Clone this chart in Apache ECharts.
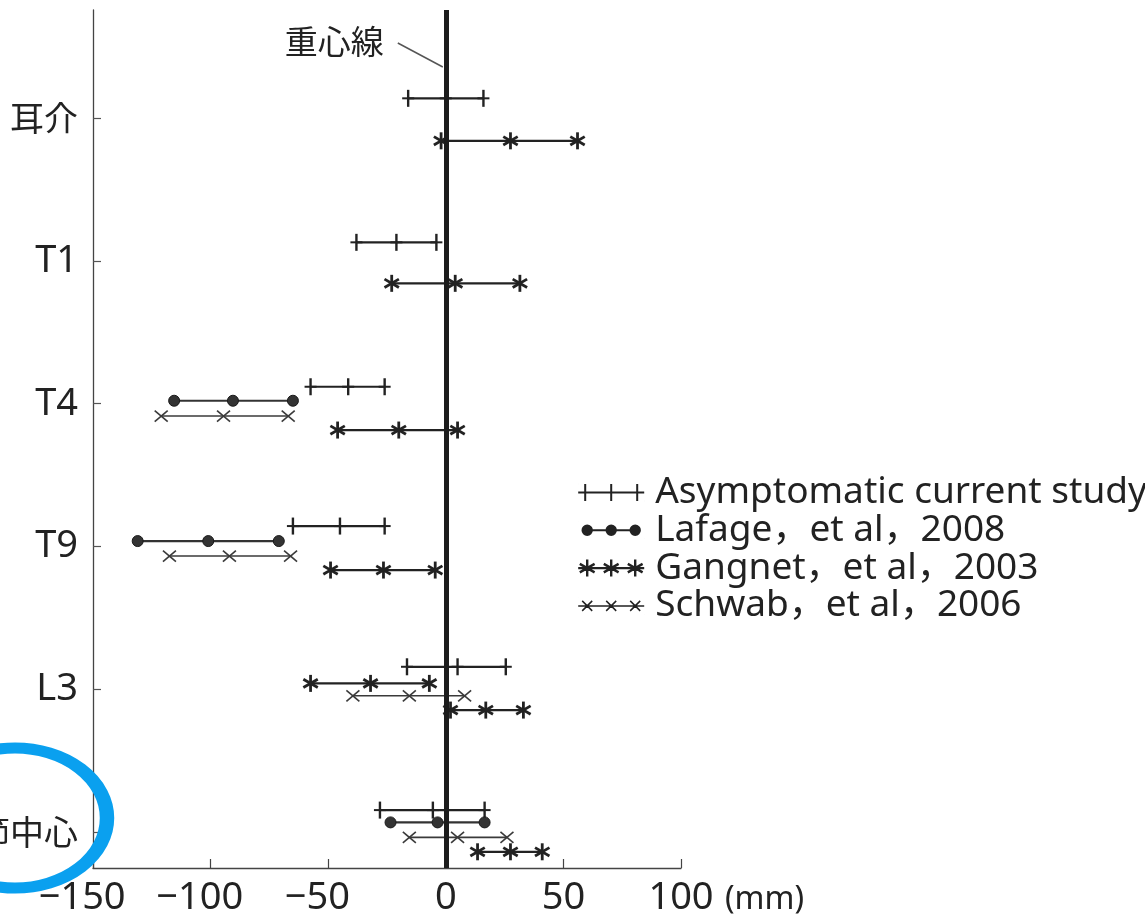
<!DOCTYPE html>
<html><head><meta charset="utf-8">
<script src="https://cdn.jsdelivr.net/npm/echarts@6/dist/echarts.min.js"></script>
<style>html,body{margin:0;padding:0;background:#fff}#c{width:1145px;height:915px}</style>
</head><body><div id="c"></div>
<script>
// ---------------- data ----------------
const categories = ['耳介', 'T1', 'T4', 'T9', 'L3', '股関節中心'];
const seriesNames = ['Asymptomatic current study', 'Lafage，et al，2008', 'Gangnet，et al，2003', 'Schwab，et al，2006'];
const xTicks = [-150, -100, -50, 0, 50, 100];
// each row: [category, mean-SD, mean, mean+SD]  (mm)
const asymptomatic = [
  ['耳介', -16, 0, 16], ['T1', -38, -21, -4], ['T4', -57.5, -41.5, -26],
  ['T9', -65, -45, -26], ['L3', -16.5, 5, 25.5], ['股関節中心', -28, -5.5, 16.5]
];
const lafage = [
  ['T4', -115.5, -90.5, -65], ['T9', -131, -101, -71], ['股関節中心', -23.5, -3.5, 16.5]
];
const gangnet = [
  ['耳介', -2, 27.5, 56], ['T1', -23, 4, 31.5], ['T4', -46, -20, 5], ['T9', -49, -26.5, -4.5],
  ['L3', -57.5, -32, -7], ['L3', 2, 17, 33], ['股関節中心', 13.5, 27.5, 41]
];
const schwab = [
  ['T4', -121, -94.5, -67], ['T9', -117.5, -92, -66], ['L3', -39.5, -15.5, 8], ['股関節中心', -15.5, 5, 26]
];

// ---------------- layout / style ----------------
const ROW_ORDER = {
  '耳介': ['asym', 'gangnet'], 'T1': ['asym', 'gangnet'],
  'T4': ['asym', 'lafage', 'schwab', 'gangnet'], 'T9': ['asym', 'lafage', 'schwab', 'gangnet'],
  'L3': ['asym', 'gangnet', 'schwab', 'gangnet'], '股関節中心': ['asym', 'lafage', 'schwab', 'gangnet']
};
const ROW_OFFSET = {
  '耳介': [-20, 22.5], 'T1': [-18.7, 22.3], 'T4': [-17, -3, 12.3, 26.3], 'T9': [-20.4, -5.4, 9.6, 23.6],
  'L3': [-22.4, -5.8, 6.6, 20.9], '股関節中心': [-21.8, -9.5, 5.5, 19.9]
};
const INK = '#222';
const LATIN = '"Noto Sans", "Noto Sans CJK JP", sans-serif';
const CJK = '"Noto Sans CJK JP", sans-serif';

function buildRows(key, rows) {
  const seen = {};
  return rows.map(r => {
    const cat = r[0];
    const n = seen[cat] || 0; seen[cat] = n + 1;
    let k = -1, slot = 0;
    ROW_ORDER[cat].forEach((s, i) => { if (s === key) { k++; if (k === n) slot = i; } });
    return [r[1], r[2], r[3], categories.indexOf(cat), ROW_OFFSET[cat][slot]];
  });
}

function L(x1, y1, x2, y2, w, c) {
  return { type: 'line', shape: { x1, y1, x2, y2 }, style: { stroke: c || INK, lineWidth: w } };
}
function marker(kind, x, y) {
  if (kind === 'plus') return [L(x, y - 8.5, x, y + 8.5, 2.4), L(x - 6, y, x + 6, y, 2)];
  if (kind === 'dot') return [{ type: 'circle', shape: { cx: x, cy: y, r: 5.5 }, style: { fill: '#333', stroke: '#1a1a1a', lineWidth: 1 } }];
  if (kind === 'cross') return [L(x - 6.5, y - 5.5, x + 6.5, y + 5.5, 1.6, '#3a3a3a'), L(x - 6.5, y + 5.5, x + 6.5, y - 5.5, 1.6, '#3a3a3a')];
  return [L(x, y - 8.5, x, y + 8.5, 2.8), L(x - 7.2, y - 4.2, x + 7.2, y + 4.2, 2.8), L(x - 7.2, y + 4.2, x + 7.2, y - 4.2, 2.8)];
}
function makeRender(kind, lw, lc) {
  return function (params, api) {
    const cat = api.value(3), off = api.value(4);
    const pts = [0, 1, 2].map(i => api.coord([api.value(i), cat]));
    const y = pts[0][1] + off;
    const children = [L(pts[0][0], y, pts[2][0], y, lw, lc)];
    pts.forEach(p => children.push(...marker(kind, p[0], y)));
    return { type: 'group', children };
  };
}

const ICONS = [
  'path://M0,0L0.01,0M0,8.5H66M7,0V17M33,0V17M59,0V17M66,17L65.99,17',
  'path://M0,0L0.01,0M9,8.5H57M4.3,8.5a4.7,4.7 0 1,0 9.4,0a4.7,4.7 0 1,0 -9.4,0ZM28.3,8.5a4.7,4.7 0 1,0 9.4,0a4.7,4.7 0 1,0 -9.4,0ZM52.3,8.5a4.7,4.7 0 1,0 9.4,0a4.7,4.7 0 1,0 -9.4,0ZM66,17L65.99,17',
  'path://M0,0L0.01,0M0,8.5H66M9,0V17M1.6,4.25L16.4,12.75M1.6,12.75L16.4,4.25M33,0V17M25.6,4.25L40.4,12.75M25.6,12.75L40.4,4.25M57,0V17M49.6,4.25L64.4,12.75M49.6,12.75L64.4,4.25M66,17L65.99,17',
  'path://M0,0L0.01,0M0,8.5H66M4,3.5L14,13.5M14,3.5L4,13.5M28,3.5L38,13.5M38,3.5L28,13.5M52,3.5L62,13.5M62,3.5L52,13.5M66,17L65.99,17'
];

const specs = [
  { key: 'asym', rows: asymptomatic, kind: 'plus', lw: 2.2, lc: INK },
  { key: 'lafage', rows: lafage, kind: 'dot', lw: 2.2, lc: '#333' },
  { key: 'gangnet', rows: gangnet, kind: 'star', lw: 2.2, lc: INK },
  { key: 'schwab', rows: schwab, kind: 'cross', lw: 1.6, lc: '#3a3a3a' }
];

const series = specs.map((s, i) => ({
  type: 'custom', name: seriesNames[i], data: buildRows(s.key, s.rows),
  renderItem: makeRender(s.kind, s.lw, s.lc), encode: { x: [0, 1, 2], y: 3 },
  itemStyle: { color: INK }, clip: false, silent: true
}));
series.push({
  type: 'custom', name: '重心線', data: [], renderItem: () => null,
  markLine: {
    silent: true, symbol: ['none', 'none'], label: { show: false }, animation: false,
    lineStyle: { color: '#1c1c1c', width: 5, type: 'solid' }, data: [{ xAxis: 0 }]
  }
});

const chart = echarts.init(document.getElementById('c'), null, { renderer: 'canvas' });
chart.setOption({
  animation: false,
  backgroundColor: '#fff',
  grid: { left: 93, right: 464, top: 10, bottom: 47, containLabel: false, outerBoundsMode: 'none' },
  xAxis: {
    type: 'value', min: xTicks[0], max: xTicks[xTicks.length - 1], interval: 50,
    name: '(mm)', nameLocation: 'end', nameGap: 44,
    nameTextStyle: { fontFamily: LATIN, fontSize: 32, color: INK, verticalAlign: 'top', padding: [16, 0, 0, 0] },
    axisLine: { onZero: false, lineStyle: { color: '#444', width: 1.3 } },
    axisTick: { inside: true, length: 9, lineStyle: { color: '#444', width: 1.2 } },
    splitLine: { show: false },
    axisLabel: {
      margin: 11, fontFamily: LATIN, fontSize: 38, color: INK, showMinLabel: true, showMaxLabel: true, hideOverlap: false,
      formatter: v => v < 0 ? `{m|−}{d|${-v}}{h|−}` : `{d|${v}}`,
      rich: {
        m: { fontFamily: LATIN, fontSize: 38, color: INK },
        d: { fontFamily: LATIN, fontSize: 38, color: INK },
        h: { fontFamily: LATIN, fontSize: 38, color: 'rgba(0,0,0,0)' }
      }
    }
  },
  yAxis: {
    type: 'value', inverse: true, min: -0.759, max: 5.253,
    axisLine: { onZero: false, lineStyle: { color: '#444', width: 1.3 } },
    axisTick: { inside: true, length: 8, customValues: categories.map((c, i) => i), lineStyle: { color: '#555', width: 1.2 } },
    splitLine: { show: false },
    axisLabel: {
      margin: 15, customValues: categories.map((c, i) => i),
      formatter: v => { const n = categories[v]; return /[A-Za-z0-9]/.test(n) ? `{l|${n}}` : `{c|${n}}`; },
      rich: {
        l: { fontFamily: LATIN, fontSize: 38, color: INK },
        c: { fontFamily: CJK, fontSize: 34, color: INK }
      }
    }
  },
  legend: {
    orient: 'vertical', left: 572, top: 469, itemWidth: 66, itemHeight: 17, itemGap: 0.8,
    selectedMode: false,
    textStyle: { fontFamily: LATIN, fontSize: 37, color: INK, lineHeight: 33.5, padding: [0, 0, 0, 6] },
    itemStyle: { borderColor: INK, borderWidth: 2 },
    data: seriesNames.map((n, i) => ({
      name: n, icon: ICONS[i],
      itemStyle: { borderColor: INK, borderWidth: i === 3 ? 1.5 : (i === 2 ? 2.4 : 2) }
    }))
  },
  series
});

const x0 = chart.convertToPixel({ xAxisIndex: 0 }, 0);
chart.setOption({
  graphic: [
    { type: 'text', x: x0 - 62, y: 41, style: { text: '重心線', fontFamily: CJK, fontSize: 33, fill: INK, align: 'right', verticalAlign: 'middle' } },
    { type: 'line', shape: { x1: x0 - 48, y1: 43, x2: x0 - 3, y2: 67 }, style: { stroke: '#555', lineWidth: 1.5 } },
    { type: 'circle', x: 15, y: 818, scaleX: 92 / 70, shape: { cx: 0, cy: 0, r: 70 }, z: 100,
      style: { fill: 'none', stroke: '#0aa0ef', lineWidth: 11, strokeNoScale: true } }
  ]
});
</script></body></html>
